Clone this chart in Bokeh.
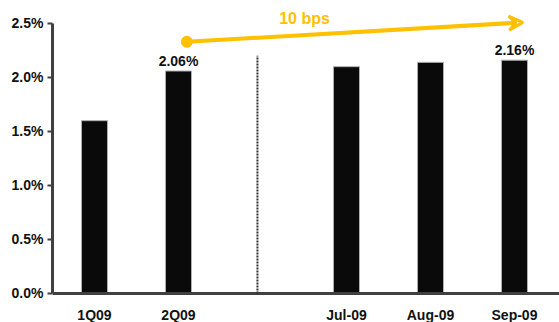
from bokeh.plotting import figure
from bokeh.models import ColumnDataSource, Range1d, Arrow, VeeHead, FixedTicker, Label
from bokeh.embed import file_html
from bokeh.resources import INLINE

categories = ["1Q09", "2Q09", "Jul-09", "Aug-09", "Sep-09"]
positions = [0, 1, 3, 4, 5]
values = [1.60, 2.06, 2.10, 2.14, 2.16]
value_labels = ["", "2.06%", "", "", "2.16%"]
y_ticks = [0.0, 0.5, 1.0, 1.5, 2.0, 2.5]
y_tick_labels = ["0.0%", "0.5%", "1.0%", "1.5%", "2.0%", "2.5%"]
arrow_text = "10 bps"
arrow_start = (1.1, 2.33)
arrow_end = (5.1, 2.51)
divider_x = 1.94
divider_top = 2.2

FONT = "'Liberation Sans Narrow', 'Liberation Sans', Arial, sans-serif"
YELLOW = "#FFC000"
X_LO, X_HI = -0.5, 5.536
Y_LO, Y_HI = -0.2685, 2.62

p = figure(width=559, height=322, output_backend="svg", toolbar_location=None,
           x_range=Range1d(X_LO, X_HI), y_range=Range1d(Y_LO, Y_HI),
           min_border_left=52, min_border_right=0, min_border_top=10, min_border_bottom=0)
p.outline_line_color = None
p.grid.visible = False
p.background_fill_color = "white"
p.xaxis.visible = False

src = ColumnDataSource(dict(x=positions, top=values, lab=value_labels,
                            cat=categories, laby=[-0.2] * len(positions)))
p.vbar(x="x", top="top", bottom=0, width=0.31, source=src, fill_color="#0a0a0a",
       line_color="#b0b0b0", line_width=1)

p.text(x="x", y="top", text="lab", source=src, text_align="center",
       text_baseline="bottom", y_offset=-2, text_font_size="14px",
       text_font_style="bold", text_color="#111111",
       text_font={"value": FONT})

# category labels below the baseline
p.text(x="x", y="laby", text="cat", source=src, text_align="center",
       text_baseline="middle", text_font_size="14px",
       text_font_style="bold", text_color="#111111",
       text_font={"value": FONT})

# x baseline
p.segment(x0=[X_LO], y0=[0], x1=[X_HI], y1=[0], line_color="#404040", line_width=3)

# divider
p.segment(x0=[divider_x], y0=[0], x1=[divider_x], y1=[divider_top],
          line_color="#333333", line_width=2, line_dash="2 1")

# arrow
p.add_layout(Arrow(end=VeeHead(size=14, line_color=YELLOW, line_width=3, fill_color=None),
                   x_start=arrow_start[0], y_start=arrow_start[1],
                   x_end=arrow_end[0], y_end=arrow_end[1],
                   line_color=YELLOW, line_width=4))
p.scatter(x=[arrow_start[0]], y=[arrow_start[1]], size=11, fill_color=YELLOW,
          line_color=YELLOW)
p.add_layout(Label(x=(arrow_start[0] + arrow_end[0]) / 2 - 0.6, y=2.545, text=arrow_text,
                   text_align="center", text_baseline="middle", text_font_size="16px",
                   text_font_style="bold", text_color=YELLOW, text_font=FONT))

# y axis
ya = p.yaxis[0]
ya.ticker = FixedTicker(ticks=y_ticks)
ya.major_label_overrides = {t: l for t, l in zip(y_ticks, y_tick_labels)}
ya.bounds = (0, 2.5)
ya.axis_line_color = "#404040"
ya.axis_line_width = 3
ya.major_tick_line_color = "#404040"
ya.major_tick_line_width = 2
ya.major_tick_out = 5
ya.major_tick_in = 0
ya.minor_tick_line_color = None
ya.major_label_text_font = FONT
ya.major_label_text_font_style = "bold"
ya.major_label_text_font_size = "14px"
ya.major_label_text_color = "#111111"
ya.major_label_standoff = 4

open("out.html", "w").write(file_html(p, INLINE))
